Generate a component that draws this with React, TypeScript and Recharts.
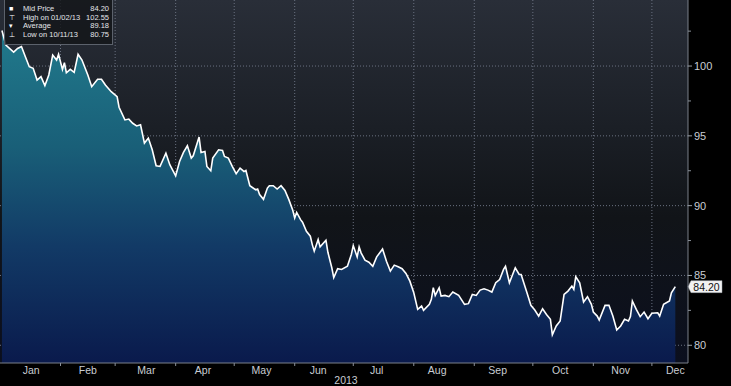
import {
  Area,
  CartesianGrid,
  ComposedChart,
  ReferenceLine,
  XAxis,
  YAxis,
} from 'recharts';

// trading day (day of year, Jan 1 = 0) and mid price
const dayOfYear = [
  1, 3, 7, 9, 11, 13, 15, 17, 19, 21, 23, 25, 27, 29, 30, 32, 33, 34, 36, 38,
  40, 42, 45, 47, 50, 52, 54, 57, 60, 61, 64, 66, 68, 70, 72, 74, 76, 78, 80,
  82, 85, 87, 90, 92, 94, 96, 98, 99, 102, 103, 105, 106, 108, 109, 112, 114,
  115, 117, 119, 121, 123, 125, 126, 128, 131, 132, 133, 135, 137, 138, 140,
  142, 144, 146, 148, 150, 151, 152, 154, 155, 157, 159, 160, 161, 163, 164,
  167, 168, 170, 171, 173, 175, 178, 180, 181, 183, 184, 185, 187, 189, 191,
  193, 196, 198, 200, 202, 204, 206, 208, 210, 212, 214, 216, 217, 220, 221,
  222, 223, 225, 226, 228, 230, 232, 235, 238, 240, 242, 244, 246, 248, 250,
  252, 254, 256, 258, 259, 261, 264, 266, 267, 270, 272, 274, 276, 278, 280,
  282, 283, 285, 287, 289, 291, 293, 294, 295, 297, 299, 301, 303, 304, 306,
  307, 310, 312, 314, 316, 318, 320, 322, 323, 324, 326, 328, 330, 332, 334,
  337, 338, 340, 343, 344, 346,
];

const midPrice = [
  102.55, 101.5, 101.0, 101.26, 101.4, 100.66, 99.95, 99.84, 99.0, 99.24,
  98.6, 99.36, 100.79, 100.43, 100.84, 99.76, 100.24, 99.52, 99.76, 99.55,
  100.84, 100.43, 99.36, 98.52, 99.05, 99.05, 98.64, 98.16, 97.81, 97.05,
  96.14, 96.2, 95.9, 95.71, 95.79, 94.48, 94.84, 94.0, 92.86, 92.81, 93.76,
  92.93, 92.14, 93.16, 93.81, 94.29, 93.41, 93.57, 94.91, 93.81, 93.88, 92.81,
  92.5, 93.41, 94.0, 93.95, 93.52, 93.41, 92.81, 92.29, 92.69, 92.45, 92.52,
  91.43, 91.14, 91.19, 90.79, 90.45, 91.26, 91.43, 91.43, 91.19, 91.43, 91.09,
  90.43, 89.67, 89.12, 89.52, 89.0, 88.81, 88.16, 87.81, 87.21, 86.74, 87.57,
  87.05, 87.52, 86.66, 85.55, 84.84, 85.48, 85.43, 85.66, 86.5, 87.14, 86.33,
  87.05, 86.62, 86.09, 85.95, 85.66, 86.33, 86.9, 86.02, 85.31, 85.74, 85.62,
  85.48, 85.14, 84.59, 83.76, 82.57, 82.81, 82.5, 82.93, 83.29, 84.12, 83.57,
  84.12, 83.52, 83.57, 83.48, 83.81, 83.57, 82.93, 82.98, 83.64, 83.57, 83.95,
  84.05, 83.95, 83.81, 84.48, 84.71, 85.43, 85.66, 84.48, 85.55, 85.07, 85.07,
  83.76, 82.86, 82.52, 82.09, 82.62, 82.21, 81.86, 80.75, 81.38, 81.74, 83.64,
  83.88, 84.24, 84.0, 84.91, 84.48, 83.1, 83.48, 82.93, 82.38, 82.09, 81.81,
  82.86, 82.86, 82.09, 81.09, 81.38, 81.86, 81.74, 82.05, 83.17, 82.57, 82.05,
  82.38, 81.9, 82.29, 82.33, 82.09, 82.93, 83.17, 83.76, 84.2,
];

const monthNames = ['Jan', 'Feb', 'Mar', 'Apr', 'May', 'Jun', 'Jul', 'Aug', 'Sep', 'Oct', 'Nov', 'Dec'];
const monthStarts = [31, 59, 90, 120, 151, 181, 212, 243, 273, 304, 334];
const monthLabelDays = [16, 45, 75, 104, 134, 163, 193, 224, 255, 287, 318, 346];

const majorTicks = [80, 85, 90, 95, 100];
const minorTicks = [82.5, 87.5, 92.5, 97.5, 102.5];

const legendRows = [
  { icon: '■', label: 'Mid Price', value: '84.20' },
  { icon: '⊤', label: 'High on 01/02/13', value: '102.55' },
  { icon: '▾', label: 'Average', value: '89.18' },
  { icon: '⊥', label: 'Low on 10/11/13', value: '80.75' },
];

const data = dayOfYear.map((day, i) => ({ day, price: midPrice[i] }));
const lastPrice = midPrice[midPrice.length - 1];

const W = 731;
const H = 386;
const AXIS_X = 688;
const AXIS_Y = 363;
const FONT = "'Liberation Sans Narrow', 'Liberation Sans', Arial, sans-serif";
const TICK_COLOR = '#c9cdd3';

function XTick(props: any) {
  const { x, payload } = props;
  const idx = monthLabelDays.indexOf(payload.value);
  if (idx >= 0) {
    return (
      <text x={x} y={AXIS_Y + 11} textAnchor='middle' fill={TICK_COLOR} fontSize={10.5} fontFamily={FONT}>
        {monthNames[idx]}
      </text>
    );
  }
  return <line x1={x} x2={x} y1={AXIS_Y} y2={AXIS_Y + 3} stroke='#8a909a' />;
}

function YTick(props: any) {
  const { y, payload } = props;
  if (majorTicks.includes(payload.value)) {
    return (
      <g>
        <line x1={AXIS_X} x2={AXIS_X + 4} y1={y} y2={y} stroke='#9aa0a8' />
        <text x={AXIS_X + 6} y={y + 4} fill={TICK_COLOR} fontSize={11} fontFamily={FONT}>
          {payload.value}
        </text>
      </g>
    );
  }
  return <line x1={AXIS_X} x2={AXIS_X + 3} y1={y} y2={y} stroke='#8a909a' />;
}

function PriceTag(props: any) {
  const { viewBox } = props;
  const x = viewBox.x + viewBox.width + 3;
  const y = viewBox.y;
  return (
    <g>
      <path
        d={`M${x - 3},${y} L${x},${y - 6} L${x + 31},${y - 6} L${x + 31},${y + 6} L${x},${y + 6} Z`}
        fill='#f2f2f2'
        stroke='#9aa0a8'
        strokeWidth={0.5}
      />
      <text x={x + 15.5} y={y + 4} textAnchor='middle' fill='#111' fontSize={10.5} fontFamily={FONT}>
        {lastPrice.toFixed(2)}
      </text>
    </g>
  );
}

function PriceChart() {
  return (
    <div style={{ position: 'fixed', left: 0, top: 0, width: W, height: H, background: '#000', overflow: 'hidden' }}>
      <ComposedChart width={W} height={H} data={data} margin={{ top: 0, right: 0, bottom: 0, left: 0 }}>
        <defs>
          <linearGradient id='plotBg' x1='0' y1='0' x2='0' y2='1'>
            <stop offset='0%' stopColor='#292e38' />
            <stop offset='35%' stopColor='#1b1f26' />
            <stop offset='60%' stopColor='#111418' />
            <stop offset='100%' stopColor='#0b0f1e' />
          </linearGradient>
          <linearGradient id='areaFill' x1='0' y1='0' x2='0' y2='1'>
            <stop offset='0%' stopColor='#217a8c' />
            <stop offset='35%' stopColor='#195f78' />
            <stop offset='65%' stopColor='#123a66' />
            <stop offset='100%' stopColor='#0a1a4c' />
          </linearGradient>
        </defs>
        <CartesianGrid
          fill='url(#plotBg)'
          stroke='#6a7180'
          strokeDasharray='1 2'
          horizontalValues={majorTicks}
          verticalValues={monthStarts}
        />
        <XAxis
          dataKey='day'
          type='number'
          domain={[0, 352.5]}
          ticks={[...monthStarts, ...monthLabelDays].sort((a, b) => a - b)}
          interval={0}
          height={23}
          stroke='#7a808a'
          tickLine={false}
          tick={<XTick />}
          allowDataOverflow
        />
        <YAxis
          orientation='right'
          type='number'
          domain={[78.73, 104.73]}
          ticks={[...majorTicks, ...minorTicks].sort((a, b) => a - b)}
          interval={0}
          width={43}
          stroke='#7a808a'
          tickLine={false}
          tick={<YTick />}
          allowDataOverflow
        />
        <Area
          type='linear'
          dataKey='price'
          baseValue='dataMin'
          stroke='#ffffff'
          strokeWidth={1.6}
          fill='url(#areaFill)'
          fillOpacity={1}
          isAnimationActive={false}
          dot={false}
          activeDot={false}
        />
        <ReferenceLine y={lastPrice} stroke='none' label={<PriceTag />} />
      </ComposedChart>
      <div
        style={{
          position: 'absolute',
          left: 346,
          top: 375,
          transform: 'translateX(-50%)',
          color: TICK_COLOR,
          fontSize: 10.5,
          fontFamily: FONT,
          lineHeight: '11px',
        }}
      >
        2013
      </div>
      <div
        style={{
          position: 'absolute',
          left: 4,
          top: 0,
          width: 109,
          height: 45,
          background: 'rgba(20,22,26,0.85)',
          border: '1px solid #5c626c',
          borderTop: 'none',
          fontFamily: FONT,
          fontSize: 7.5,
          color: '#e4e6ea',
          boxSizing: 'border-box',
          padding: '5px 3px 0 4px',
          whiteSpace: 'nowrap',
        }}
      >
        {legendRows.map((row) => (
          <div key={row.label} style={{ display: 'flex', height: 8.5, lineHeight: '8.5px', alignItems: 'center' }}>
            <span style={{ width: 14, fontSize: 7, color: '#ffffff' }}>{row.icon}</span>
            <span style={{ flex: 1, marginRight: 4 }}>{row.label}</span>
            <span>{row.value}</span>
          </div>
        ))}
      </div>
    </div>
  );
}

export default function App() {
  return <PriceChart />;
}
